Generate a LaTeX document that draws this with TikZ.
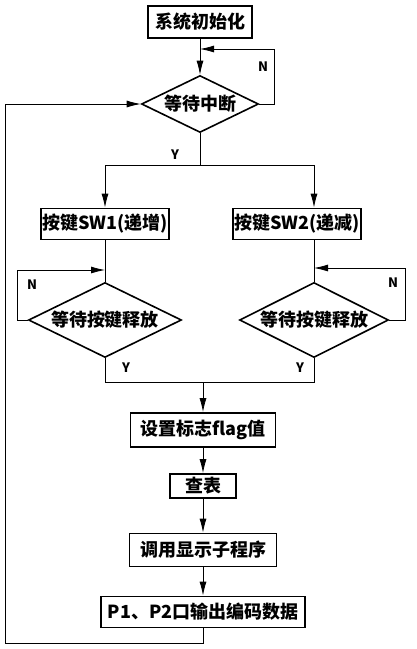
\documentclass[tikz,border=0pt]{standalone}
\usepackage{fontspec}
\setmainfont{Noto Sans CJK SC}
\usetikzlibrary{arrows.meta, shapes.geometric}
\tikzset{
  proc/.style={draw, line width=1.8pt, minimum height=31pt, inner sep=1pt, font=\fontsize{18}{20}\selectfont\bfseries},
  dec/.style={diamond, draw, line width=1.6pt, aspect=2, inner sep=0pt, font=\fontsize{18}{20}\selectfont\bfseries},
  lnk/.style={line width=0.8pt},
  flow/.style={lnk, -{Latex[length=14pt, width=7pt]}},
  yn/.style={font=\fontsize{13}{15}\selectfont\bfseries, inner sep=1pt}
}

\begin{document}
\begin{tikzpicture}[x=1pt, y=-1pt]
		\useasboundingbox (0,0) rectangle (417,649);
		% main column
		\node[proc, minimum width=104pt, minimum height=32pt] (init) at (200,22) {系统初始化};
		\node[dec, minimum width=117pt, minimum height=57pt] (wait) at (200,104) {等待中断};
		\node[proc, minimum width=124pt] (sw1) at (105,224) {按键SW1(递增)};
		\node[proc, minimum width=122pt] (sw2) at (297,224) {按键SW2(递减)};
		\node[dec, minimum width=153pt, minimum height=75pt] (rel1) at (105,320) {等待按键释放};
		\node[dec, minimum width=149pt, minimum height=75pt] (rel2) at (314,320) {等待按键释放};
		\node[proc, minimum width=145pt, minimum height=34pt] (flag) at (203,430) {设置标志flag值};
		\node[proc, minimum width=66pt, minimum height=24pt] (tab) at (203,486) {查表};
		\node[proc, minimum width=147pt, minimum height=33pt] (disp) at (203,550) {调用显示子程序};
		\node[proc, minimum width=204pt] (out) at (203,612) {P1、P2口输出编码数据};
		% junctions
		\coordinate (j0) at (200,49);
		\coordinate (split) at (200,165);
		\coordinate (j1) at (105,270);
		\coordinate (j2) at (314,268);
		\coordinate (merge) at (203,382);
		% connectors
		\draw[flow] (init) -- (wait);
		\draw[flow] (wait.east) -- ++(15,0) |- (j0);
		\draw[lnk] (wait) -- (split);
		\draw[flow] (split) -| (sw1);
		\draw[flow] (split) -| (sw2.north -| rel2.north);
		\draw[lnk] (sw1) -- (rel1);
		\draw[lnk] (sw2.south -| rel2.north) -- (rel2);
		\draw[flow] (rel1.west) -- ++(-10,0) |- (j1);
		\draw[flow] (rel2.east) -- ++(16,0) |- (j2);
		\draw[lnk] (rel1.south) -- ++(0,24) -| (rel2.south);
		\draw[flow] (merge) -- (flag);
		\draw[flow] (flag) -- (tab);
		\draw[flow] (tab) -- (disp);
		\draw[flow] (disp) -- (out);
		\draw[flow] (out.south) -- ++(0,15) -| (5,104) -- (wait.west);
		% labels
		\node[yn] (ny0) at (263,67) {N};
		\node[yn] (yy0) at (175,155) {Y};
		\node[yn] (ny1) at (32,285) {N};
		\node[yn] (ny2) at (393,283) {N};
		\node[yn] (yy1) at (126,368) {Y};
		\node[yn] (yy2) at (300,368) {Y};
	\end{tikzpicture}
\end{document}
